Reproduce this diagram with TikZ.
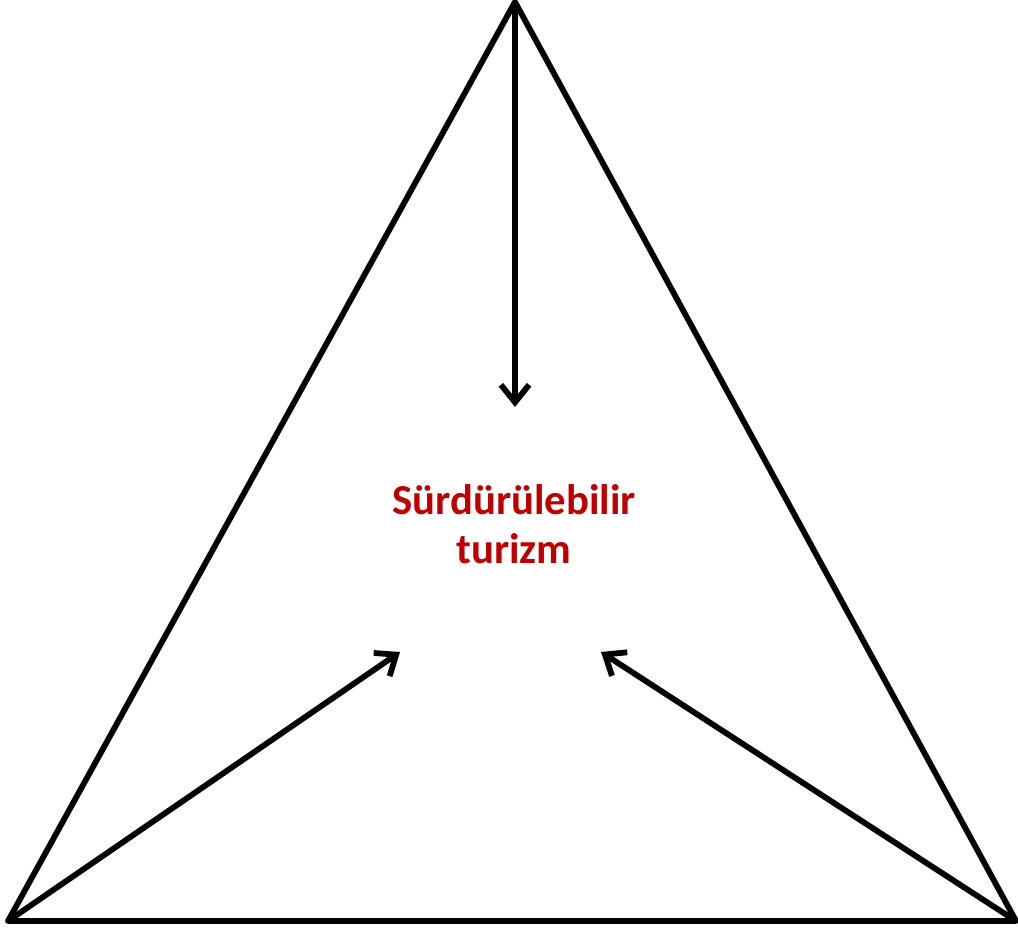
\documentclass[tikz,border=0pt]{standalone}
\usepackage{fontspec}
\setmainfont{Carlito}
\usetikzlibrary{arrows.meta}
\definecolor{textred}{HTML}{C00000}

\begin{document}
\begin{tikzpicture}[line width=3.3pt, >={Straight Barb[length=10pt,width=16pt]}]
  \useasboundingbox (0,0) rectangle (20.36,18.58);
  % Triangle corners
  \coordinate (top) at (10.30,18.54);
  \coordinate (left) at (0.16,0.16);
  \coordinate (right) at (20.32,0.16);
  \draw[line join=round] (top) -- (left) -- (right) -- cycle;

  % Centre label
  \node[font=\fontsize{24.3}{28}\selectfont\bfseries, color=textred, align=center] (goal) at (10.28,8.1)
    {Sürdürülebilir\\turizm};

  % Arrow ends round the label
  \coordinate (topend) at (10.30,10.44);
  \coordinate (leftend) at (8.00,5.54);
  \coordinate (rightend) at (12.02,5.54);
  \draw[->] (top) -- (topend);
  \draw[->] (left) -- (leftend);
  \draw[->] (right) -- (rightend);
\end{tikzpicture}
\end{document}
